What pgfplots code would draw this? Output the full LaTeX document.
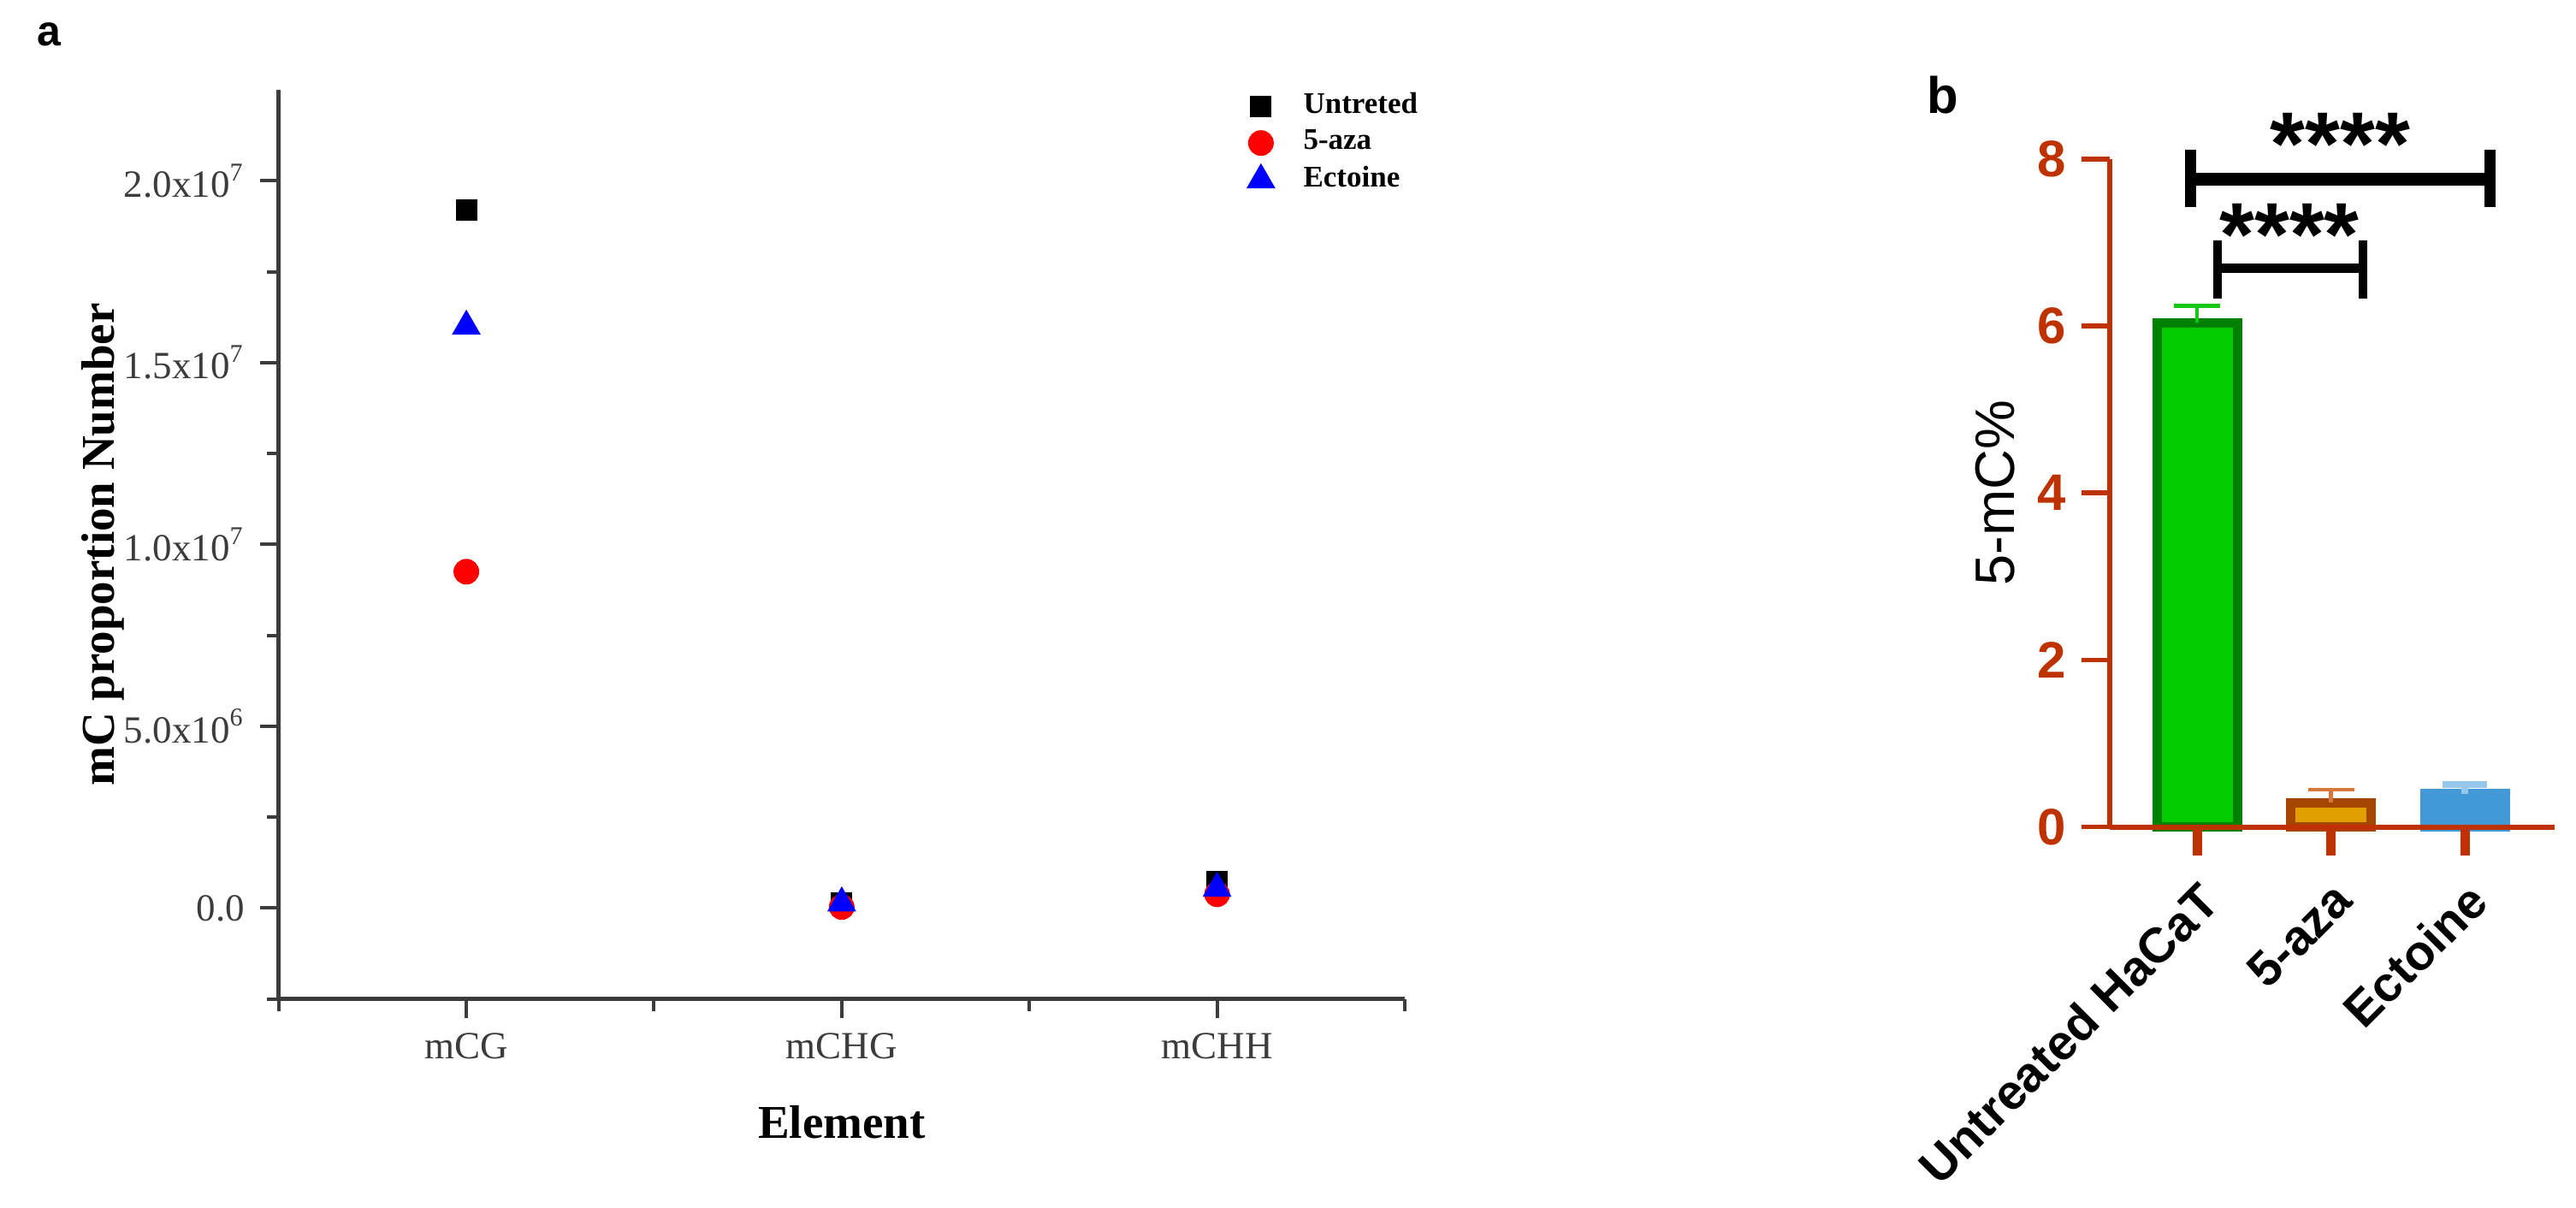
\documentclass[border=0pt]{standalone}
\usepackage{fontspec}
\setmainfont{Liberation Sans}
\newfontfamily\tnr{Liberation Serif}
\usepackage{pgfplots}
\pgfplotsset{compat=1.18}

\definecolor{axa}{RGB}{60,60,60}
\definecolor{axb}{RGB}{190,50,0}
\definecolor{gfill}{RGB}{0,204,0}
\definecolor{gline}{RGB}{0,128,0}
\definecolor{gerr}{RGB}{20,200,20}
\definecolor{ofill}{RGB}{225,160,0}
\definecolor{oline}{RGB}{165,70,0}
\definecolor{oerr}{RGB}{215,120,60}
\definecolor{bfill}{RGB}{66,153,214}
\definecolor{berr}{RGB}{150,200,235}

\begin{document}
\begin{tikzpicture}
\path (0,0) rectangle (602.2pt,282.2pt);

% panel a
\begin{axis}[
  at={(65.14pt,48.66pt)}, anchor=south west,
  scale only axis, width=263.26pt, height=212.54pt,
  xmin=0.5, xmax=3.5, ymin=-2.5e6, ymax=2.25e7,
  axis lines*=left,
  axis line style={draw=axa, line width=1pt},
  tick align=outside,
  major tick length=4.4pt, minor tick length=2.8pt,
  tick style={draw=axa, line width=0.8pt},
  xtick={1,2,3}, xticklabels={mCG,mCHG,mCHH},
  minor xtick={0.5,1.5,2.5,3.5},
  ytick={0,5e6,1e7,1.5e7,2e7},
  yticklabels={0.0, 5.0x10\textsuperscript{6}, 1.0x10\textsuperscript{7}, 1.5x10\textsuperscript{7}, 2.0x10\textsuperscript{7}},
  minor ytick={-2.5e6,2.5e6,7.5e6,1.25e7,1.75e7},
  scaled y ticks=false,
  ticklabel style={font=\tnr\fontsize{9}{10}\selectfont, text=axa},
  xlabel={Element}, ylabel={mC proportion Number},
  xlabel style={font=\tnr\bfseries\fontsize{11}{12}\selectfont, at={(axis description cs:0.5,-0.1355)}, anchor=center},
  ylabel style={font=\tnr\bfseries\fontsize{11}{12}\selectfont, at={(axis description cs:-0.156,0.5)}, anchor=center, rotate=0},
  legend style={at={(axis description cs:0.860,1.005)}, anchor=north west, draw=none, fill=none,
    inner xsep=0pt, inner ysep=0pt, nodes={inner sep=1.5pt},
    font=\tnr\bfseries\fontsize{7}{8}\selectfont, row sep=-0.6pt, column sep=5.4pt},
  legend cell align=left,
  clip=false,
]
\addplot[only marks, mark=square*, mark size=2.3pt, mark options={fill=black, draw=black}] coordinates {
  (1,1.92e7) (2,1.5e5) (3,7.3e5)
};
\addlegendentry{Untreted}
\addplot[only marks, mark=*, mark size=2.8pt, mark options={fill=red, draw=red}] coordinates {
  (1,9.25e6) (2,3e4) (3,3.8e5)
};
\addlegendentry{5-aza}
\addplot[only marks, mark=triangle*, mark size=3.5pt, mark options={fill=blue, draw=blue}] coordinates {
  (1,1.60e7) (2,1.4e5) (3,5.4e5)
};
\addlegendentry{Ectoine}
\end{axis}

% panel b
\begin{axis}[
  at={(493.14pt,88.86pt)}, anchor=south west,
  scale only axis, width=104.06pt, height=156.2pt,
  xmin=-0.654, xmax=2.67, ymin=0, ymax=8,
  ybar, bar shift=0pt, bar width=0.6,
  axis on top,
  axis lines*=left,
  axis line style={draw=axb, line width=1.2pt},
  tick align=outside, major tick length=6.6pt,
  ytick style={draw=axb, line width=1.1pt},
  xtick style={draw=axb, line width=2.2pt},
  ytick={0,2,4,6,8},
  xtick={0,1,2}, xticklabels={Untreated HaCaT, 5-aza, Ectoine},
  /pgf/number format/assume math mode=true,
  yticklabel style={font=\bfseries\fontsize{12}{12}\selectfont, text=axb},
  xticklabel style={font=\bfseries\fontsize{11.5}{12}\selectfont, rotate=45, anchor=north east, inner sep=1pt},
  xticklabel shift=4pt,
  ylabel={5-mC\%},
  ylabel style={font=\fontsize{13}{14}\selectfont, at={(axis description cs:-0.257,0.5)}, anchor=center},
  clip=false,
]
\addplot[fill=gfill, draw=gline, line width=2.2pt,
  error bars/.cd, y dir=plus, y explicit,
  error bar style={draw=gerr, line width=0.9pt},
  error mark options={rotate=90, draw=gerr, mark size=5.4pt, line width=0.9pt}]
  coordinates {(0,6.04) +- (0,0.20)};
\addplot[fill=ofill, draw=oline, line width=2.2pt,
  error bars/.cd, y dir=plus, y explicit,
  error bar style={draw=oerr, line width=0.9pt},
  error mark options={rotate=90, draw=oerr, mark size=5.4pt, line width=0.9pt}]
  coordinates {(1,0.29) +- (0,0.16)};
\addplot[fill=bfill, draw=bfill, line width=2.2pt,
  error bars/.cd, y dir=plus, y explicit,
  error bar style={draw=berr, line width=1.6pt},
  error mark options={rotate=90, draw=berr, mark size=5.2pt, line width=1.6pt}]
  coordinates {(2,0.40) +- (0,0.11)};

% significance brackets
\draw[line width=3pt] (axis cs:-0.05,7.76) -- (axis cs:2.19,7.76);
\draw[line width=2.6pt] (axis cs:-0.05,7.42) -- (axis cs:-0.05,8.11);
\draw[line width=2.6pt] (axis cs:2.19,7.42) -- (axis cs:2.19,8.11);
\draw[line width=2.2pt] (axis cs:0.15,6.69) -- (axis cs:1.24,6.69);
\draw[line width=2pt] (axis cs:0.15,6.33) -- (axis cs:0.15,7.02);
\draw[line width=2pt] (axis cs:1.24,6.33) -- (axis cs:1.24,7.02);
\node[anchor=base, yshift=-9.6pt, inner sep=0pt, font=\bfseries\fontsize{21}{21}\selectfont] at (axis cs:1.07,8.30) {****};
\node[anchor=base, yshift=-9.6pt, inner sep=0pt, font=\bfseries\fontsize{21}{21}\selectfont] at (axis cs:0.69,7.21) {****};
\end{axis}

\node[font=\bfseries\fontsize{10}{10}\selectfont] at (11.4pt,274.2pt) {a};
\node[font=\bfseries\fontsize{12}{12}\selectfont] at (454.2pt,260pt) {b};

\pgfresetboundingbox
\path[use as bounding box] (0,0) rectangle (602.2pt,282.2pt);
\end{tikzpicture}
\end{document}
